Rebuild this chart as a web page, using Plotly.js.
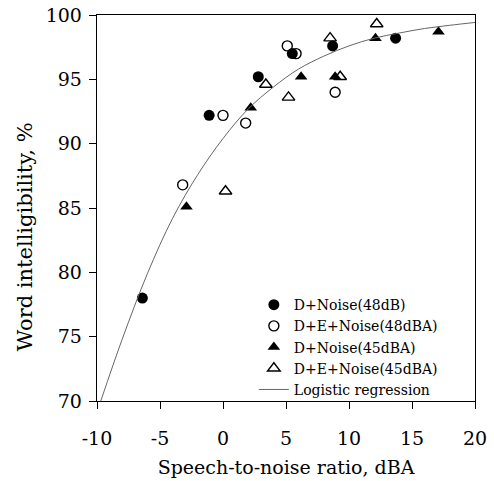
<!DOCTYPE html>
<html>
<head>
<meta charset="utf-8">
<script src="https://cdn.plot.ly/plotly-3.0.1.min.js"></script>
<style>html,body{margin:0;padding:0;background:#fff;}#chart{width:494px;height:481px;}</style>
</head>
<body>
<div id="chart"></div>
<script>
// Data
const dNoise48_x = [-6.4, -1.1, 2.8, 5.5, 8.7, 13.7];
const dNoise48_y = [78.0, 92.2, 95.2, 97.0, 97.6, 98.2];

const deNoise48_x = [-3.2, 0.0, 1.8, 5.1, 5.8, 8.9];
const deNoise48_y = [86.8, 92.2, 91.6, 97.6, 97.0, 94.0];

const dNoise45_x = [-2.9, 2.2, 6.2, 8.9, 12.1, 17.1];
const dNoise45_y = [85.1, 92.8, 95.2, 95.2, 98.2, 98.7];

const deNoise45_x = [0.2, 3.4, 5.2, 8.5, 9.3, 12.2];
const deNoise45_y = [86.3, 94.6, 93.6, 98.2, 95.2, 99.3];

const logit_x = [-9.7, -8, -6, -4, -2, 0, 2, 4, 6, 8, 10, 12, 14, 16, 18, 20];
const logit_y = [70.0, 74.8, 79.9, 84.2, 87.6, 90.4, 92.7, 94.4, 95.8, 96.8, 97.6, 98.2, 98.6, 98.95, 99.2, 99.42];

const seriesNames = ["D+Noise(48dB)", "D+E+Noise(48dBA)", "D+Noise(45dBA)", "D+E+Noise(45dBA)", "Logistic regression"];

const xTickVals = [-10, -5, 0, 5, 10, 15, 20];
const xTickText = ["-10", "-5", "0", "5", "10", "15", "20"];
const yTickVals = [70, 75, 80, 85, 90, 95, 100];

const xTitle = "Speech-to-noise ratio, dBA";
const yTitle = "Word intelligibility, %";

const FONT = "DejaVu Serif, Liberation Serif, serif";

const traces = [
  {x: dNoise48_x, y: dNoise48_y, name: seriesNames[0], mode: "markers", type: "scatter",
   marker: {symbol: "circle", size: 11, color: "#000"}},
  {x: deNoise48_x, y: deNoise48_y, name: seriesNames[1], mode: "markers", type: "scatter",
   marker: {symbol: "circle-open", size: 10, color: "#000", line: {width: 1.4, color: "#000"}}},
  {x: dNoise45_x, y: dNoise45_y, name: seriesNames[2], mode: "markers", type: "scatter",
   marker: {symbol: "triangle-up", size: 11, color: "#000"}},
  {x: deNoise45_x, y: deNoise45_y, name: seriesNames[3], mode: "markers", type: "scatter",
   marker: {symbol: "triangle-up-open", size: 11, color: "#000", line: {width: 1.4, color: "#000"}}},
  {x: logit_x, y: logit_y, name: seriesNames[4], mode: "lines", type: "scatter",
   line: {color: "#666", width: 1, shape: "spline"}}
];

const layout = {
  width: 494, height: 481,
  margin: {l: 97, r: 19, t: 15, b: 80},
  paper_bgcolor: "#fff", plot_bgcolor: "#fff",
  font: {family: FONT, color: "#000", size: 18},
  showlegend: true,
  legend: {x: 0.415, xanchor: "left", y: 0.29, yanchor: "top",
           bgcolor: "rgba(0,0,0,0)", font: {family: FONT, size: 14, color: "#000"}},
  xaxis: {
    range: [-10, 20], tickmode: "array", tickvals: xTickVals, ticktext: xTickText,
    showline: true, mirror: true, linecolor: "#000", linewidth: 1.3,
    ticks: "outside", ticklen: 7, tickcolor: "#000", tickwidth: 1,
    showgrid: false, zeroline: false, ticklabelstandoff: 13,
    tickfont: {family: FONT, size: 19, color: "#000"},
    title: {text: xTitle, font: {family: FONT, size: 19, color: "#000"}, standoff: 12}
  },
  yaxis: {
    range: [70, 100], tickmode: "array", tickvals: yTickVals,
    showline: true, mirror: true, linecolor: "#000", linewidth: 1.3,
    ticks: "outside", ticklen: 7, tickcolor: "#000", tickwidth: 1,
    showgrid: false, zeroline: false, ticklabelstandoff: 3,
    tickfont: {family: FONT, size: 19, color: "#000"}
  },
  annotations: [{
    text: yTitle, xref: "paper", yref: "paper", x: -0.19, y: 0.425,
    xanchor: "center", yanchor: "middle", textangle: -90, showarrow: false,
    font: {family: FONT, size: 21, color: "#000"}
  }]
};

Plotly.newPlot("chart", traces, layout, {displayModeBar: false, staticPlot: true});
</script>
</body>
</html>
